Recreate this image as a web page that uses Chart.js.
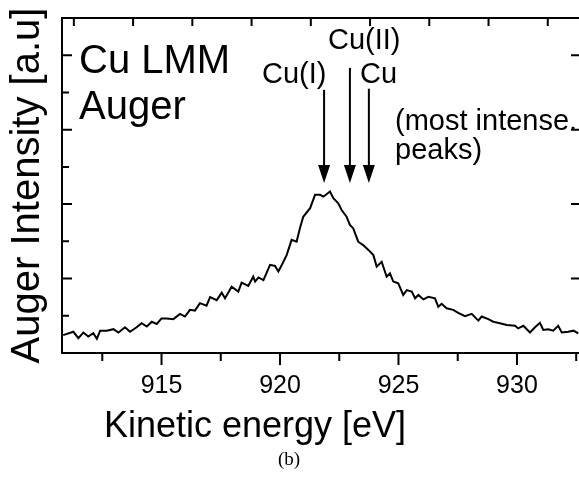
<!DOCTYPE html>
<html>
<head>
<meta charset="utf-8">
<script src="https://cdn.jsdelivr.net/npm/chart.js@4.4.1/dist/chart.umd.min.js"></script>
<style>
  html, body { margin: 0; padding: 0; background: #fff; overflow: hidden; }
  #wrap { position: relative; width: 582px; height: 483px; }
</style>
</head>
<body>
<div id="wrap"><canvas id="c" width="582" height="483"></canvas></div>
<script>
// ---- data ----
const energy = [
  910.85, 911.28, 911.49, 911.70, 911.91, 912.12, 912.27, 912.41, 912.69, 912.97,
  913.18, 913.46, 913.67, 913.95, 914.16, 914.38, 914.59, 914.80, 915.00, 915.22,
  915.50, 915.78, 915.99, 916.20, 916.41, 916.62, 916.90, 917.05, 917.33, 917.54,
  917.68, 917.96, 918.24, 918.38, 918.66, 918.87, 918.95, 919.09, 919.30, 919.58,
  919.79, 919.93, 920.08, 920.28, 920.49, 920.70, 920.84, 920.98, 921.27, 921.48,
  921.69, 921.83, 922.11, 922.25, 922.46, 922.60, 922.81, 922.95, 923.09, 923.30,
  923.51, 923.73, 923.94, 924.08, 924.29, 924.50, 924.64, 924.78, 924.99, 925.20,
  925.35, 925.56, 925.70, 925.84, 926.05, 926.26, 926.54, 926.68, 926.82, 927.03,
  927.31, 927.52, 927.81, 928.09, 928.37, 928.51, 928.79, 929.00, 929.28, 929.57,
  929.92, 930.05, 930.27, 930.55, 930.76, 930.97, 931.11, 931.32, 931.53, 931.74,
  931.89, 932.16, 932.38, 932.59
];
const intensity = [
  0.48, 0.57, 0.40, 0.55, 0.44, 0.53, 0.38, 0.60, 0.60, 0.64,
  0.55, 0.69, 0.57, 0.69, 0.80, 0.71, 0.84, 0.78, 0.93, 0.93,
  0.91, 1.05, 0.98, 1.16, 1.14, 1.34, 1.27, 1.50, 1.42, 1.62,
  1.47, 1.78, 1.65, 1.89, 1.80, 2.05, 1.92, 2.03, 1.96, 2.37,
  2.34, 2.19, 2.37, 2.63, 3.04, 2.99, 3.35, 3.66, 3.89, 4.25,
  4.25, 4.20, 4.34, 4.16, 4.02, 3.84, 3.66, 3.44, 3.35, 2.99,
  2.90, 2.77, 2.63, 2.32, 2.45, 2.05, 2.14, 1.92, 1.87, 1.56,
  1.69, 1.65, 1.47, 1.56, 1.44, 1.51, 1.47, 1.24, 1.32, 1.20,
  1.16, 1.08, 0.99, 1.05, 0.87, 0.98, 0.91, 0.84, 0.80, 0.75,
  0.73, 0.66, 0.73, 0.55, 0.69, 0.81, 0.62, 0.64, 0.60, 0.73,
  0.55, 0.57, 0.60, 0.53
];
const xTickLabels = [915, 920, 925, 930];
const xBottomTicks = [912.5, 915, 917.5, 920, 922.5, 925, 927.5, 930, 932.5];
const xTopTicks = [911.3, 913.8, 916.3, 918.8, 921.3, 923.8, 926.3, 928.8, 931.3];
const yLeftTicks = [1, 2, 3, 4, 5, 6, 7, 8];
const yRightTicks = [2, 4, 6, 8];
const arrowNames = ['Cu(I)', 'Cu(II)', 'Cu'];
const arrowEnergy = [921.86, 922.95, 923.75];
const arrowTail = [7.07, 7.66, 7.10];
const arrowTip = 4.57;
const xRange = [910.8, 932.66];
const yRange = [0, 9];

const SANS = '"Liberation Sans", Arial, Helvetica, sans-serif';

const decor = {
  id: 'decor',
  afterDraw(chart) {
    const ctx = chart.ctx;
    const a = chart.chartArea;
    const xs = chart.scales.x, ys = chart.scales.y;
    ctx.save();
    ctx.strokeStyle = '#000';
    ctx.fillStyle = '#000';
    ctx.lineWidth = 2;
    ctx.lineCap = 'butt';
    // frame
    ctx.beginPath();
    ctx.moveTo(a.left, a.top); ctx.lineTo(a.right, a.top);
    ctx.lineTo(a.right, a.bottom); ctx.lineTo(a.left, a.bottom);
    ctx.closePath();
    ctx.stroke();
    // bottom ticks (outward)
    ctx.beginPath();
    xBottomTicks.forEach(v => {
      const px = xs.getPixelForValue(v);
      const len = (Math.abs(v % 5) < 1e-6) ? 12 : 8;
      ctx.moveTo(px, a.bottom); ctx.lineTo(px, a.bottom + len);
    });
    // top ticks (inward)
    xTopTicks.forEach(v => {
      const px = xs.getPixelForValue(v);
      ctx.moveTo(px, a.top); ctx.lineTo(px, a.top + 8);
    });
    // left ticks (inward)
    yLeftTicks.forEach(v => {
      const py = ys.getPixelForValue(v);
      const len = (v % 2 === 0) ? 10 : 7;
      ctx.moveTo(a.left, py); ctx.lineTo(a.left + len, py);
    });
    // right ticks (inward)
    yRightTicks.forEach(v => {
      const py = ys.getPixelForValue(v);
      ctx.moveTo(a.right, py); ctx.lineTo(a.right - 9, py);
    });
    ctx.stroke();

    // arrows
    arrowEnergy.forEach((e, i) => {
      const px = xs.getPixelForValue(e);
      const pt = ys.getPixelForValue(arrowTail[i]);
      const pp = ys.getPixelForValue(arrowTip);
      ctx.beginPath();
      ctx.moveTo(px, pt); ctx.lineTo(px, pp - 14);
      ctx.stroke();
      ctx.beginPath();
      ctx.moveTo(px, pp);
      ctx.lineTo(px - 6, pp - 18);
      ctx.lineTo(px + 6, pp - 18);
      ctx.closePath();
      ctx.fill();
    });

    // texts
    ctx.textBaseline = 'alphabetic';
    ctx.textAlign = 'left';
    ctx.font = '40px ' + SANS;
    ctx.fillText('Cu LMM', 79, 73);
    ctx.fillText('Auger', 79, 119);
    ctx.font = '29px ' + SANS;
    ctx.fillText(arrowNames[0], 262, 83);
    ctx.fillText(arrowNames[1], 328, 49);
    ctx.fillText(arrowNames[2], 360, 83);
    ctx.fillText('(most intense.', 395, 130);
    ctx.fillText('peaks)', 395, 159);

    ctx.textAlign = 'center';
    ctx.font = '36px ' + SANS;
    ctx.fillText('Kinetic energy [eV]', 255, 437);
    ctx.font = '19px "Liberation Serif", "Times New Roman", serif';
    ctx.fillText('(b)', 289, 465);
    ctx.restore();
  }
};

new Chart(document.getElementById('c'), {
  type: 'line',
  data: {
    datasets: [{
      data: energy.map((e, i) => ({ x: e, y: intensity[i] })),
      borderColor: '#000',
      borderWidth: 2,
      pointRadius: 0,
      tension: 0,
      fill: false
    }]
  },
  options: {
    responsive: false,
    animation: false,
    events: [],
    layout: { padding: { top: 18, right: 2, left: 0, bottom: 0 } },
    plugins: { legend: { display: false }, tooltip: { enabled: false }, title: { display: false } },
    scales: {
      x: {
        type: 'linear',
        min: xRange[0], max: xRange[1],
        position: 'bottom',
        afterBuildTicks: s => { s.ticks = xTickLabels.map(v => ({ value: v })); },
        afterFit: s => { s.height = 130; },
        grid: { display: false, drawTicks: false },
        border: { display: false },
        ticks: {
          padding: 18,
          color: '#000',
          maxRotation: 0,
          autoSkip: false,
          font: { family: SANS, size: 25 },
          callback: v => String(v)
        }
      },
      y: {
        type: 'linear',
        min: yRange[0], max: yRange[1],
        position: 'left',
        afterFit: s => { s.width = 62; },
        grid: { display: false, drawTicks: false },
        border: { display: false },
        ticks: { display: false },
        title: {
          display: true,
          text: 'Auger Intensity [a.u]',
          color: '#000',
          font: { family: SANS, size: 40 },
          padding: { top: 4, bottom: 0 }
        }
      }
    }
  },
  plugins: [decor]
});
</script>
</body>
</html>
